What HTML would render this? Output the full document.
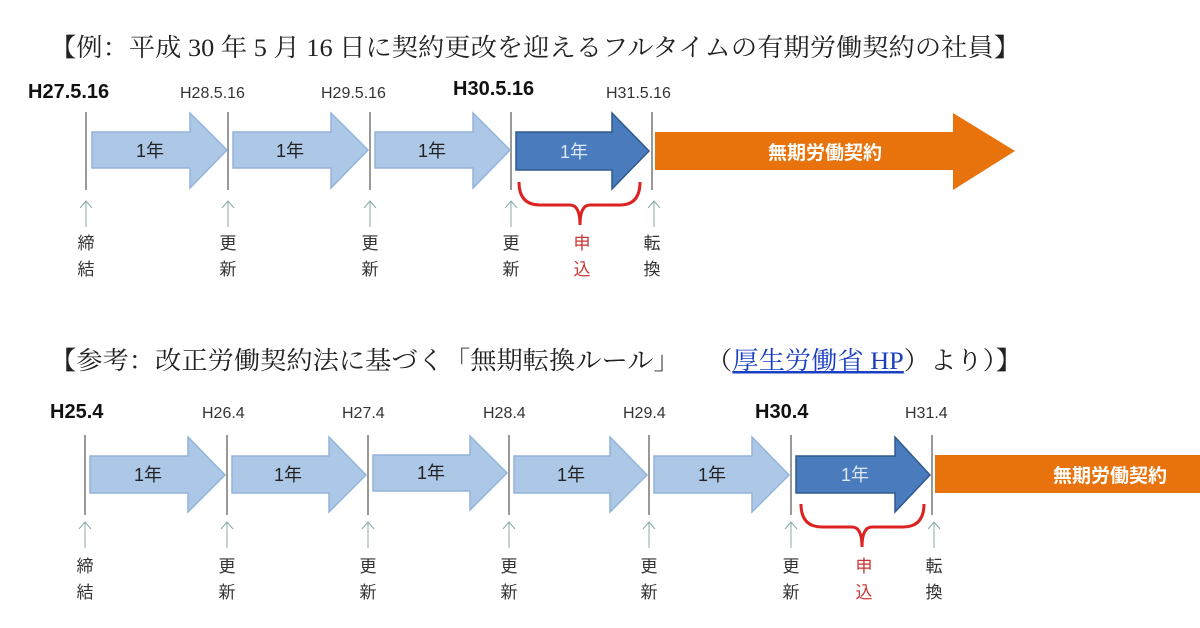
<!DOCTYPE html>
<html><head><meta charset="utf-8"><style>
body{margin:0;background:#fff;}
svg{display:block;}
text{font-family:"Liberation Sans","Noto Sans CJK JP",sans-serif;}
.t{font-family:"Liberation Serif","Noto Serif CJK SC",serif;font-size:25px;fill:#222;}
.b{font-weight:bold;font-size:20px;fill:#111;}
.s{font-size:16px;fill:#333;}
.y{font-size:18px;fill:#222;text-anchor:middle;}
.v{font-size:17px;fill:#333;text-anchor:middle;}
</style></head><body>
<svg width="1200" height="628" viewBox="0 0 1200 628">
<text class="t" x="50" y="56" textLength="970" lengthAdjust="spacingAndGlyphs">【例：平成 30 年 5 月 16 日に契約更改を迎えるフルタイムの有期労働契約の社員】</text>
<!-- row 1 -->
<text class="b" x="28" y="98">H27.5.16</text>
<text class="s" x="180" y="98">H28.5.16</text>
<text class="s" x="321" y="98">H29.5.16</text>
<text class="b" x="453" y="95">H30.5.16</text>
<text class="s" x="606" y="98">H31.5.16</text>
<g stroke="#777" stroke-width="1.5">
<line x1="86" y1="112" x2="86" y2="190"/><line x1="228" y1="112" x2="228" y2="190"/><line x1="370" y1="112" x2="370" y2="190"/><line x1="511" y1="112" x2="511" y2="190"/><line x1="652" y1="112" x2="652" y2="190"/>
</g>
<g fill="#adc7e6" stroke="#93b4da" stroke-width="1.5">
<polygon points="92,132 190,132 190,113 227,150 190,188 190,168 92,168"/>
<polygon points="233,132 331,132 331,113 368,150 331,188 331,168 233,168"/>
<polygon points="375,132 473,132 473,113 510,150 473,188 473,168 375,168"/>
</g>
<polygon points="516,132 612,132 612,113 649,151 612,189 612,170 516,170" fill="#4a7cbd" stroke="#2f5a8e" stroke-width="1.5"/>
<polygon points="655,132 953,132 953,113 1015,151 953,190 953,170 655,170" fill="#e8720c"/>
<text class="y" x="150" y="157">1年</text><text class="y" x="290" y="157">1年</text><text class="y" x="432" y="157">1年</text>
<text class="y" x="574" y="158" style="fill:#dde8f5">1年</text>
<text class="y" x="825" y="159" style="fill:#fff;font-weight:bold;font-size:19px">無期労働契約</text>
<g stroke="#8aa" stroke-width="1" fill="none">
<path d="M86 227V201M80 208L86 201L92 208"/><path d="M228 227V201M222 208L228 201L234 208"/><path d="M370 227V201M364 208L370 201L376 208"/><path d="M511 227V201M505 208L511 201L517 208"/><path d="M654 227V201M648 208L654 201L660 208"/>
</g>
<path d="M519 182 Q519 205 540 205 L570 205 Q580 205 580 225 Q580 205 590 205 L620 205 Q640 205 640 182" stroke="#d22" stroke-width="3" fill="none"/>
<text class="v" x="86" y="249">締</text><text class="v" x="86" y="275">結</text>
<text class="v" x="228" y="249">更</text><text class="v" x="228" y="275">新</text>
<text class="v" x="370" y="249">更</text><text class="v" x="370" y="275">新</text>
<text class="v" x="511" y="249">更</text><text class="v" x="511" y="275">新</text>
<text class="v" x="582" y="249" style="fill:#c33">申</text><text class="v" x="582" y="275" style="fill:#c33">込</text>
<text class="v" x="652" y="249">転</text><text class="v" x="652" y="275">換</text>
<!-- row 2 -->
<text class="t" x="50" y="369" textLength="972" lengthAdjust="spacingAndGlyphs">【参考：改正労働契約法に基づく「無期転換ルール」　　（<tspan fill="#1a3fc0" text-decoration="underline">厚生労働省 HP</tspan>）より）】</text>
<text class="b" x="50" y="418">H25.4</text>
<text class="s" x="202" y="418">H26.4</text>
<text class="s" x="342" y="418">H27.4</text>
<text class="s" x="483" y="418">H28.4</text>
<text class="s" x="623" y="418">H29.4</text>
<text class="b" x="755" y="418">H30.4</text>
<text class="s" x="905" y="418">H31.4</text>
<g stroke="#777" stroke-width="1.5">
<line x1="85" y1="435" x2="85" y2="515"/><line x1="227" y1="435" x2="227" y2="515"/><line x1="368" y1="435" x2="368" y2="515"/><line x1="509" y1="435" x2="509" y2="515"/><line x1="649" y1="435" x2="649" y2="515"/><line x1="791" y1="435" x2="791" y2="515"/><line x1="932" y1="435" x2="932" y2="515"/>
</g>
<g fill="#adc7e6" stroke="#93b4da" stroke-width="1.5">
<polygon points="90,456 188,456 188,437 225,475 188,512 188,493 90,493"/>
<polygon points="232,456 329,456 329,437 366,475 329,512 329,493 232,493"/>
<polygon points="373,455 470,455 470,436 507,473 470,510 470,491 373,491"/>
<polygon points="514,456 610,456 610,437 647,475 610,512 610,493 514,493"/>
<polygon points="654,456 752,456 752,437 789,475 752,512 752,493 654,493"/>
</g>
<polygon points="796,456 895,456 895,437 930,475 895,512 895,493 796,493" fill="#4a7cbd" stroke="#2f5a8e" stroke-width="1.5"/>
<rect x="935" y="455" width="265" height="38" fill="#e8720c"/>
<text class="y" x="148" y="481">1年</text><text class="y" x="288" y="481">1年</text><text class="y" x="431" y="479">1年</text><text class="y" x="571" y="481">1年</text><text class="y" x="712" y="481">1年</text>
<text class="y" x="855" y="481" style="fill:#dde8f5">1年</text>
<text class="y" x="1110" y="482" style="fill:#fff;font-weight:bold;font-size:19px">無期労働契約</text>
<g stroke="#8aa" stroke-width="1" fill="none">
<path d="M85 548V522M79 529L85 522L91 529"/><path d="M227 548V522M221 529L227 522L233 529"/><path d="M368 548V522M362 529L368 522L374 529"/><path d="M509 548V522M503 529L509 522L515 529"/><path d="M649 548V522M643 529L649 522L655 529"/><path d="M791 548V522M785 529L791 522L797 529"/><path d="M934 548V522M928 529L934 522L940 529"/>
</g>
<path d="M801 504 Q801 527 822 527 L852 527 Q862 527 862 547 Q862 527 872 527 L903 527 Q924 527 924 504" stroke="#d22" stroke-width="3" fill="none"/>
<text class="v" x="85" y="572">締</text><text class="v" x="85" y="598">結</text>
<text class="v" x="227" y="572">更</text><text class="v" x="227" y="598">新</text>
<text class="v" x="368" y="572">更</text><text class="v" x="368" y="598">新</text>
<text class="v" x="509" y="572">更</text><text class="v" x="509" y="598">新</text>
<text class="v" x="649" y="572">更</text><text class="v" x="649" y="598">新</text>
<text class="v" x="791" y="572">更</text><text class="v" x="791" y="598">新</text>
<text class="v" x="864" y="572" style="fill:#c33">申</text><text class="v" x="864" y="598" style="fill:#c33">込</text>
<text class="v" x="934" y="572">転</text><text class="v" x="934" y="598">換</text>
</svg>
</body></html>
